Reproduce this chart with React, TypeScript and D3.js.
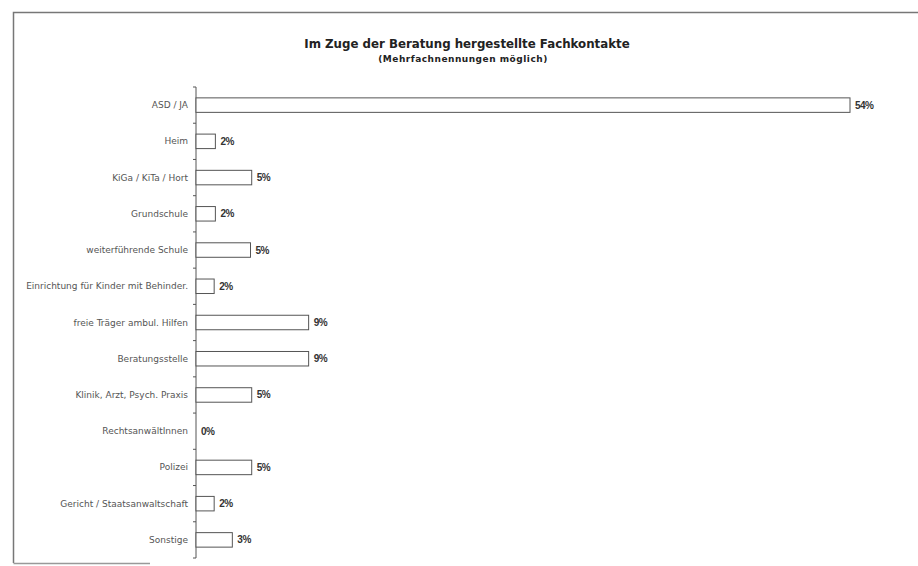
import React from "react";
import * as d3 from "d3";

const categories = [
  "ASD / JA",
  "Heim",
  "KiGa / KiTa / Hort",
  "Grundschule",
  "weiterführende Schule",
  "Einrichtung für Kinder mit Behinder.",
  "freie Träger ambul. Hilfen",
  "Beratungsstelle",
  "Klinik, Arzt, Psych. Praxis",
  "RechtsanwältInnen",
  "Polizei",
  "Gericht / Staatsanwaltschaft",
  "Sonstige",
];
const values = [54, 1.6, 4.6, 1.6, 4.5, 1.5, 9.3, 9.3, 4.6, 0, 4.6, 1.5, 3.0];
const valueLabels = ["54%", "2%", "5%", "2%", "5%", "2%", "9%", "9%", "5%", "0%", "5%", "2%", "3%"];
const title = "Im Zuge der Beratung hergestellte Fachkontakte";
const subtitle = "(Mehrfachnennungen möglich)";

const W = 918;
const H = 566;
const axisX = 196;

export default function App() {
  const y = d3.scaleBand<string>().domain(categories).range([87, 558]).paddingInner(0.6).paddingOuter(0.3);
  const x = d3.scaleLinear().domain([0, 54]).range([axisX, 850]);
  const tickYs = d3.range(categories.length + 1).map((i) => 87 + i * ((558 - 87) / categories.length));
  const font = "'Liberation Sans', Arial, sans-serif";
  const font2 = "'DejaVu Sans', Verdana, sans-serif";
  return (
    <svg width={W} height={H} style={{ position: "absolute", left: 0, top: 0, background: "#fff" }}>
      <path d="M13.5,563 L13.5,12.5 L918,12.5" fill="none" stroke="#777" strokeWidth={1.5} />
      <path d="M13.5,563.5 L150,563.5" fill="none" stroke="#999" strokeWidth={1.5} />
      <text x={467} y={48} textAnchor="middle" fontFamily={font2} fontWeight="bold" fontSize={11.8} fill="#222">
        {title}
      </text>
      <text x={463} y={62} textAnchor="middle" fontFamily={font2} fontWeight="bold" fontSize={9} fill="#222" letterSpacing={0.5}>
        {subtitle}
      </text>
      <line x1={axisX} x2={axisX} y1={87} y2={558} stroke="#555" strokeWidth={1} />
      {tickYs.map((t, i) => (
        <line key={"t" + i} x1={axisX - 3} x2={axisX} y1={t} y2={t} stroke="#555" strokeWidth={1} />
      ))}
      {categories.map((c, i) => {
        const by = y(c)!;
        const bh = y.bandwidth();
        const cy = by + bh / 2;
        return (
          <g key={c}>
            {values[i] > 0 && (
              <rect x={axisX} y={by} width={x(values[i]) - axisX} height={bh} fill="#fff" stroke="#555" strokeWidth={1} />
            )}
            <text x={188} y={cy + 3} textAnchor="end" fontFamily={font2} fontSize={9} fill="#555">
              {c}
            </text>
            <text x={x(values[i]) + 5} y={cy + 3.5} fontFamily={font} fontSize={10} fontWeight="bold" fill="#333" letterSpacing={-0.5}>
              {valueLabels[i]}
            </text>
          </g>
        );
      })}
    </svg>
  );
}
